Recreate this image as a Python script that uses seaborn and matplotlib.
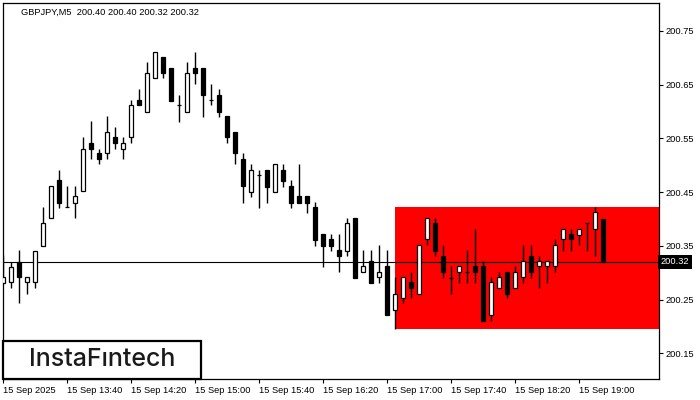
import numpy as np
import pandas as pd
import matplotlib
matplotlib.use("Agg")
import matplotlib.pyplot as plt
from matplotlib.patches import Rectangle
import seaborn as sns

# GBPJPY M5 candles, 15 Sep 2025 from 13:00
opens = [200.281, 200.282, 200.320, 200.282, 200.282, 200.350, 200.401, 200.472, 200.422, 200.430,
         200.452, 200.541, 200.522, 200.522, 200.552, 200.531, 200.552, 200.621, 200.600, 200.662,
         200.701, 200.681, 200.612, 200.600, 200.681, 200.681, 200.621, 200.631, 200.592, 200.561,
         200.511, 200.451, 200.481, 200.491, 200.451, 200.491, 200.461, 200.443, 200.443, 200.422,
         200.372, 200.362, 200.342, 200.341, 200.401, 200.302, 200.321, 200.291, 200.312, 200.231,
         200.252, 200.282, 200.261, 200.362, 200.392, 200.331, 200.290, 200.302, 200.302, 200.312,
         200.312, 200.221, 200.272, 200.302, 200.272, 200.291, 200.331, 200.312, 200.312, 200.312,
         200.362, 200.372, 200.371, 200.392, 200.382, 200.400]
highs = [200.333, 200.320, 200.342, 200.291, 200.341, 200.423, 200.461, 200.491, 200.461, 200.461,
         200.553, 200.582, 200.531, 200.592, 200.571, 200.552, 200.621, 200.642, 200.692, 200.710,
         200.701, 200.681, 200.631, 200.692, 200.710, 200.681, 200.651, 200.641, 200.592, 200.561,
         200.522, 200.502, 200.491, 200.491, 200.502, 200.502, 200.472, 200.502, 200.443, 200.431,
         200.372, 200.372, 200.372, 200.401, 200.401, 200.342, 200.342, 200.351, 200.342, 200.291,
         200.291, 200.302, 200.351, 200.401, 200.401, 200.351, 200.312, 200.312, 200.342, 200.382,
         200.321, 200.291, 200.302, 200.302, 200.312, 200.351, 200.351, 200.331, 200.321, 200.362,
         200.382, 200.382, 200.382, 200.392, 200.422, 200.400]
lows = [200.278, 200.272, 200.243, 200.261, 200.272, 200.350, 200.401, 200.421, 200.422, 200.401,
        200.452, 200.511, 200.502, 200.511, 200.531, 200.511, 200.541, 200.612, 200.600, 200.662,
        200.662, 200.620, 200.581, 200.600, 200.651, 200.590, 200.612, 200.590, 200.541, 200.502,
        200.430, 200.441, 200.421, 200.430, 200.451, 200.460, 200.421, 200.430, 200.411, 200.350,
        200.311, 200.341, 200.302, 200.331, 200.290, 200.302, 200.281, 200.281, 200.221, 200.195,
        200.243, 200.252, 200.261, 200.351, 200.331, 200.290, 200.261, 200.281, 200.281, 200.281,
        200.210, 200.210, 200.272, 200.252, 200.272, 200.281, 200.290, 200.272, 200.281, 200.302,
        200.341, 200.341, 200.351, 200.341, 200.331, 200.320]
closes = [200.291, 200.311, 200.291, 200.291, 200.341, 200.392, 200.461, 200.430, 200.422, 200.442,
          200.531, 200.531, 200.511, 200.561, 200.541, 200.541, 200.612, 200.612, 200.671, 200.710,
          200.671, 200.620, 200.612, 200.671, 200.671, 200.631, 200.621, 200.600, 200.552, 200.522,
          200.461, 200.491, 200.481, 200.460, 200.502, 200.471, 200.430, 200.430, 200.430, 200.361,
          200.350, 200.350, 200.331, 200.392, 200.290, 200.312, 200.281, 200.302, 200.221, 200.261,
          200.291, 200.272, 200.351, 200.401, 200.341, 200.302, 200.290, 200.312, 200.302, 200.302,
          200.210, 200.282, 200.291, 200.261, 200.302, 200.321, 200.302, 200.321, 200.321, 200.351,
          200.382, 200.362, 200.382, 200.392, 200.412, 200.320]

tick_labels = ["15 Sep 2025", "15 Sep 13:40", "15 Sep 14:20", "15 Sep 15:00", "15 Sep 15:40",
               "15 Sep 16:20", "15 Sep 17:00", "15 Sep 17:40", "15 Sep 18:20", "15 Sep 19:00"]
price_ticks = [200.15, 200.25, 200.35, 200.45, 200.55, 200.65, 200.75]
last_price = 200.32
zone_start = 49          # candle index where the red zone begins
zone_low, zone_high = 200.195, 200.422

df = pd.DataFrame({"open": opens, "high": highs, "low": lows, "close": closes})
df["x"] = np.arange(len(df))
df["up"] = df["close"] >= df["open"]

sns.set_style("white")
plt.rcParams["font.family"] = ["Liberation Sans", "DejaVu Sans"]

fig = plt.figure(figsize=(7, 4), dpi=100)
ax = fig.add_axes([3 / 700, 21 / 400, 656 / 700, 376 / 400])

# red zone
ax.add_patch(Rectangle((zone_start, zone_low), 100, zone_high - zone_low,
                       facecolor="#ff0000", edgecolor="none", zorder=0))
ax.axhline(last_price, color="black", lw=0.8, zorder=1)

# wicks and bodies
ax.vlines(df["x"], df["low"], df["high"], color="black", lw=1, zorder=2)
body_bottom = df[["open", "close"]].min(axis=1)
body_h = (df["close"] - df["open"]).abs()
ax.bar(df["x"], body_h, bottom=body_bottom, width=0.6,
       color=np.where(df["up"], "white", "black"), edgecolor="black",
       linewidth=0.9, zorder=3)

ax.set_xlim(0, 82)
ax.set_ylim(200.102, 200.802)

ax.yaxis.tick_right()
ax.set_yticks(price_ticks)
ax.set_yticklabels([f"{p:.2f}" for p in price_ticks])
ax.set_xticks(np.arange(0, 80, 8))
ax.set_xticklabels(tick_labels, ha="left")
ax.tick_params(axis="both", labelsize=6.7, length=3, width=0.8, colors="black",
               direction="out", pad=2)
ax.tick_params(axis="y", right=True, left=False)
ax.tick_params(axis="x", bottom=True)
for s in ax.spines.values():
    s.set_color("black")
    s.set_linewidth(0.9)

ax.text(1.003, last_price, f"{last_price:.2f}", transform=ax.get_yaxis_transform(),
        fontsize=6.7, color="white", va="center", ha="left",
        bbox=dict(facecolor="black", edgecolor="none", pad=1.8))

ax.text(18 / 656, 1 - 9 / 376, "GBPJPY,M5  200.40 200.40 200.32 200.32",
        transform=ax.transAxes, fontsize=6.7, color="black", va="center", ha="left")

# logo box
fig.patches.append(Rectangle((3 / 700, 21 / 400), 198 / 700, 38 / 400, transform=fig.transFigure,
                             facecolor="white", edgecolor="black", linewidth=1.6, zorder=5))
fig.text(102 / 700, 40 / 400, "InstaFıntech", fontsize=18, color="#1a1a1a", fontweight="medium",
         family=["Inter", "DejaVu Sans"], ha="center", va="center", zorder=6)

fig.savefig("out.png", dpi=100)
